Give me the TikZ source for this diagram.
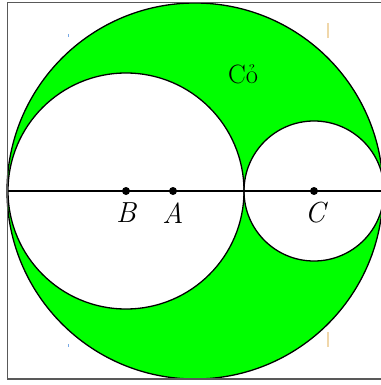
\documentclass[tikz,border=0pt]{standalone}
\usepackage{fontspec}
\begin{document}
\begin{tikzpicture}[x=1pt,y=-1pt,
  outline/.style={draw=black,line width=1.3pt},
  ptdot/.style={fill=black},
  lbl/.style={font=\fontsize{29}{32}\selectfont\itshape,inner sep=0pt},
  grasslbl/.style={font=\fontsize{26.5}{29}\selectfont,inner sep=0pt},
  tanmark/.style={draw={rgb,255:red,240;green,215;blue,170},line width=1.3pt},
  bluemark/.style={draw={rgb,255:red,120;green,170;blue,230},line width=1pt}]
\useasboundingbox (0,0) rectangle (380,385);
\coordinate (O) at (195,191);
\coordinate (B) at (126,191);
\coordinate (A) at (173,191);
\coordinate (C) at (314,191);
\coordinate (L) at (7,191);
\coordinate (R) at (383,191);
% green region
\fill[green] (O) circle (188);
\fill[white] (B) circle (118) (C) circle (70);
% outlines
\draw[outline] (O) circle (188);
\draw[outline] (B) circle (118);
\draw[outline] (C) circle (70);
\draw[outline] (L) -- (R);
% frame
\draw[draw=black!65,line width=1.6pt] (7.5,2.5) -- (395,2.5) (7.5,2.5) -- (7.5,379) -- (395,379);
% points
\fill[ptdot] (B) circle (4);
\fill[ptdot] (A) circle (4);
\fill[ptdot] (C) circle (4);
\node[lbl] (lB) at (126,213) {B};
\node[lbl] (lA) at (173,213) {A};
\node[lbl] (lC) at (315,213) {C};
\node[grasslbl] (grass) at (243,74) {Cỏ};
% faint marks
\draw[tanmark] (328,23) -- (328,38);
\draw[tanmark] (328,332) -- (328,347);
\draw[bluemark] (68,34) -- (68,37);
\draw[bluemark] (68,344) -- (68,347);
\end{tikzpicture}
\end{document}
